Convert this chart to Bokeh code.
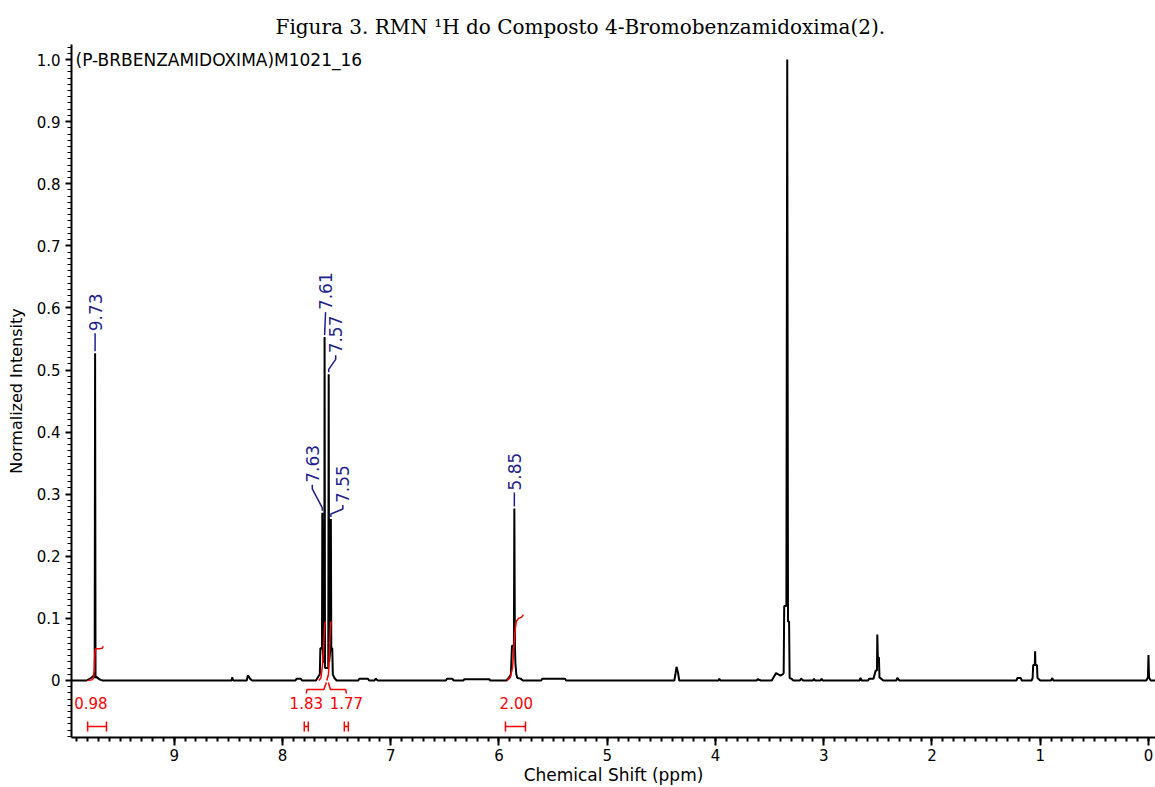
import math
from bokeh.plotting import figure
from bokeh.models import Range1d, FixedTicker, Label, CustomJSTickFormatter
from bokeh.embed import file_html
from bokeh.resources import INLINE
from bokeh.core.properties import value

# ---------------- data ----------------
shift_ppm = [9.949, 9.81, 9.79, 9.77, 9.75, 9.74, 9.735, 9.731, 9.727, 9.72, 9.70, 9.68, 9.66,
             8.47, 8.465, 8.455, 8.33, 8.32, 8.31, 8.30, 8.28, 7.88, 7.87, 7.83, 7.82,
             7.69, 7.67, 7.655, 7.65, 7.635, 7.632, 7.628, 7.62, 7.614, 7.611, 7.607, 7.59,
             7.577, 7.573, 7.569, 7.556, 7.553, 7.549, 7.54, 7.535, 7.52, 7.50,
             7.30, 7.29, 7.21, 7.20, 7.15, 7.14, 7.12, 6.49, 6.48, 6.43, 6.42, 6.33, 6.32, 6.09, 6.08,
             5.93, 5.91, 5.89, 5.88, 5.862, 5.858, 5.853, 5.848, 5.84, 5.83, 5.80, 5.78,
             5.61, 5.60, 5.39, 5.38, 4.38, 4.37, 4.36, 4.345, 4.335, 3.97, 3.965, 3.955,
             3.62, 3.61, 3.58, 3.48, 3.46, 3.44, 3.42, 3.40, 3.38, 3.37, 3.365, 3.345, 3.337,
             3.33, 3.32, 3.315, 3.30, 3.28, 3.22, 3.21, 3.19, 3.10, 3.09, 3.08, 3.03, 3.02, 3.01,
             2.67, 2.66, 2.65, 2.59, 2.58, 2.54, 2.52, 2.508, 2.505, 2.50, 2.49, 2.485, 2.47, 2.45,
             2.33, 2.32, 2.30, 1.22, 1.21, 1.18, 1.17, 1.08, 1.07, 1.065, 1.05, 1.047, 1.044, 1.03,
             1.025, 1.00, 0.90, 0.888, 0.88, 0.02, 0.005, 0.0, -0.005, -0.02, -0.065]
intensity = [0.0, 0.0, 0.002, 0.004, 0.007, 0.01, 0.004, 0.527, 0.004, 0.006, 0.003, 0.001, 0.0,
             0.0, 0.005, 0.0, 0.0, 0.008, 0.006, 0.003, 0.0, 0.0, 0.003, 0.003, 0.0,
             0.0, 0.006, 0.01, 0.052, 0.052, 0.27, 0.05, 0.03, 0.03, 0.553, 0.02, 0.02,
             0.02, 0.493, 0.03, 0.052, 0.26, 0.052, 0.052, 0.01, 0.004, 0.0,
             0.0, 0.003, 0.003, 0.0, 0.0, 0.003, 0.0, 0.0, 0.003, 0.003, 0.0, 0.0, 0.002, 0.002, 0.0,
             0.0, 0.004, 0.01, 0.056, 0.056, 0.277, 0.06, 0.027, 0.01, 0.004, 0.003, 0.0,
             0.0, 0.003, 0.003, 0.0, 0.0, 0.01, 0.022, 0.012, 0.0, 0.0, 0.003, 0.0,
             0.0, 0.002, 0.0, 0.0, 0.006, 0.012, 0.01, 0.008, 0.01, 0.012, 0.12, 0.12, 1.0,
             0.095, 0.095, 0.004, 0.003, 0.0, 0.0, 0.003, 0.0, 0.0, 0.003, 0.0, 0.0, 0.003, 0.0,
             0.0, 0.004, 0.0, 0.0, 0.003, 0.003, 0.016, 0.016, 0.074, 0.037, 0.037, 0.005, 0.003, 0.0,
             0.0, 0.004, 0.0, 0.0, 0.004, 0.004, 0.0, 0.0, 0.004, 0.025, 0.025, 0.047, 0.025, 0.025,
             0.004, 0.0, 0.0, 0.004, 0.0, 0.0, 0.005, 0.041, 0.005, 0.0, 0.0]

peak_labels = ["9.73", "7.63", "7.61", "7.57", "7.55", "5.85"]
peak_shift = [9.731, 7.632, 7.611, 7.573, 7.553, 5.858]
peak_height = [0.527, 0.27, 0.553, 0.493, 0.26, 0.277]

integral_labels = ["0.98", "1.83", "1.77", "2.00"]
integral_from = [9.80, 7.66, 7.59, 5.94]
integral_to = [9.626, 7.59, 7.52, 5.755]
integral_label_shift = [9.77, 7.78, 7.41, 5.84]
integral_curve_ppm = [
    [9.80, 9.76, 9.745, 9.738, 9.733, 9.728, 9.72, 9.69, 9.665, 9.655],
    [7.665, 7.645, 7.63, 7.62, 7.612, 7.606, 7.60],
    [7.59, 7.575, 7.566, 7.558, 7.552, 7.545],
    [5.925, 5.895, 5.875, 5.865, 5.855, 5.84, 5.82, 5.79, 5.775],
]
integral_curve_val = [
    [0.0, 0.001, 0.004, 0.02, 0.045, 0.05, 0.051, 0.051, 0.052, 0.055],
    [0.0, 0.004, 0.025, 0.05, 0.085, 0.093, 0.095],
    [0.0, 0.01, 0.045, 0.085, 0.093, 0.095],
    [0.0, 0.005, 0.02, 0.045, 0.075, 0.095, 0.10, 0.102, 0.106],
]

x_ticks = [0, 1, 2, 3, 4, 5, 6, 7, 8, 9]
y_ticks = [0, 0.1, 0.2, 0.3, 0.4, 0.5, 0.6, 0.7, 0.8, 0.9, 1.0]

title_text = "Figura 3. RMN \u00b9H do Composto 4-Bromobenzamidoxima(2)."
sample_text = "(P-BRBENZAMIDOXIMA)M1021_16"
x_label = "Chemical Shift (ppm)"
y_label = "Normalized Intensity"

# ---------------- layout ----------------
W, H = 1155, 787
FL, FR, FT, FB = 71, 0, 44, 50
X0, X1 = 9.949, -0.065
Y0, Y1 = -0.0918, 1.0242
PX = (X0 - X1) / (W - FL - FR)   # ppm per pixel
PY = (Y1 - Y0) / (H - FT - FB)   # intensity per pixel

NAVY = "#1f1f8c"
RED = "#ff0000"
SANS = "DejaVu Sans"

p = figure(width=W, height=H, x_range=Range1d(X0, X1), y_range=Range1d(Y0, Y1),
           output_backend="svg", toolbar_location=None,
           min_border_left=FL, min_border_right=FR, min_border_top=FT, min_border_bottom=FB)
p.outline_line_color = None
p.grid.visible = False
p.background_fill_color = "white"
p.border_fill_color = "white"

p.title.text = title_text
p.title.text_font = "DejaVu Serif"
p.title.text_font_size = "20px"
p.title.text_font_style = "normal"
p.title.text_color = "black"
p.title.align = "left"
p.title.offset = 204
p.title.standoff = 11

xa = p.xaxis[0]
xa.ticker = FixedTicker(ticks=x_ticks,
                        minor_ticks=[round(i * 0.1, 2) for i in range(-1, 100)])
xa.axis_line_width = 2
xa.major_tick_out = 8
xa.major_tick_in = 0
xa.minor_tick_out = 4
xa.minor_tick_in = 0
xa.major_tick_line_width = 2
xa.minor_tick_line_width = 2
xa.major_label_text_font = SANS
xa.major_label_text_font_size = "15px"
xa.major_label_text_color = "black"
xa.major_label_standoff = 3
xa.axis_label = x_label
xa.axis_label_text_font = SANS
xa.axis_label_text_font_size = "17px"
xa.axis_label_text_font_style = "normal"
xa.axis_label_text_color = "black"
xa.axis_label_standoff = 1

ya = p.yaxis[0]
ya.ticker = FixedTicker(ticks=y_ticks,
                        minor_ticks=[round(i * 0.01, 3) for i in range(-9, 103)])
ya.formatter = CustomJSTickFormatter(code="return Math.abs(tick) < 1e-9 ? '0' : tick.toFixed(1);")
ya.axis_line_width = 2
ya.major_tick_out = 6
ya.major_tick_in = 0
ya.minor_tick_out = 4
ya.minor_tick_in = 0
ya.major_tick_line_width = 2
ya.minor_tick_line_width = 1
ya.major_label_text_font = SANS
ya.major_label_text_font_size = "15px"
ya.major_label_text_color = "black"
ya.major_label_standoff = 5
ya.axis_label = y_label
ya.axis_label_text_font = SANS
ya.axis_label_text_font_size = "16px"
ya.axis_label_text_font_style = "normal"
ya.axis_label_text_color = "black"
ya.axis_label_standoff = 8

# spectrum
p.line(shift_ppm, intensity, line_color="black", line_width=2)

# integral curves
p.multi_line(xs=integral_curve_ppm, ys=integral_curve_val, line_color=RED, line_width=1.5)

# integral labels
lab_y = -23 * PY
p.text(x=integral_label_shift, y=[lab_y] * len(integral_labels), text=integral_labels,
       text_color=RED, text_font=value(SANS), text_font_size="15px",
       text_align="center", text_baseline="middle")

# integration range brackets
by = -46 * PY
bxs, bys = [], []
for i in range(len(integral_labels)):
    if i in (1, 2):
        a = integral_label_shift[i] + 2 * PX
        b = integral_label_shift[i] - 2 * PX
    else:
        a, b = integral_from[i], integral_to[i]
    bxs += [[a, a], [a, b], [b, b]]
    bys += [[by - 5 * PY, by + 5 * PY], [by, by], [by - 5 * PY, by + 5 * PY]]
p.multi_line(xs=bxs, ys=bys, line_color=RED, line_width=1.5)

# brace joining the two aromatic integrals to their labels
mid = integral_to[1]
lx, rx = integral_label_shift[1], integral_label_shift[2]
brace_x = [[lx, lx - 0.6 * PX, mid + 3 * PX, mid + 0.5 * PX],
           [mid - 1.5 * PX, mid - 3.5 * PX, rx + 0.6 * PX, rx]]
brace_y = [[-13 * PY, -9 * PY, -9 * PY, -2 * PY],
           [-2 * PY, -9 * PY, -9 * PY, -13 * PY]]
p.multi_line(xs=brace_x, ys=brace_y, line_color=RED, line_width=1.5)

# peak labels with connectors
label_dx = [0, -10, 1, 7, 12, 0]      # px
label_gap = [22, 30, 27, 21, 16, 18]  # px
cx, cy, tx, ty = [], [], [], []
for s, h, dx, g in zip(peak_shift, peak_height, label_dx, label_gap):
    xl = s - dx * PX
    y0 = h + 2 * PY
    yt = h + g * PY
    if abs(dx) <= 1:
        cx.append([s, xl])
        cy.append([y0, yt - 2 * PY])
    else:
        cx.append([s, s, xl, xl])
        cy.append([y0, y0 + 3 * PY, yt - 6 * PY, yt - 2 * PY])
    tx.append(xl)
    ty.append(yt)
p.multi_line(xs=cx, ys=cy, line_color=NAVY, line_width=1.5)
p.text(x=tx, y=ty, text=peak_labels, angle=math.pi / 2,
       text_color=NAVY, text_font=value(SANS), text_font_size="17px",
       text_align="left", text_baseline="middle")

# sample name at the top left of the plot
p.add_layout(Label(x=X0 - 4 * PX, y=1.0, text=sample_text, text_font=SANS,
                   text_font_size="17px", text_color="black",
                   text_align="left", text_baseline="middle"))

open("out.html", "w").write(file_html(p, INLINE))
